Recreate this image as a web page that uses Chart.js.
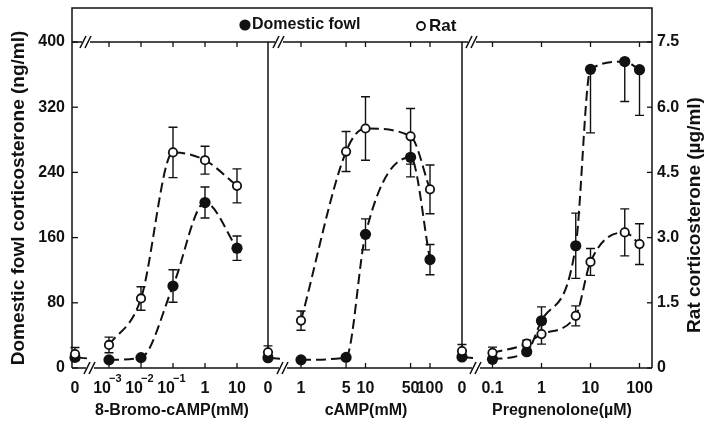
<!DOCTYPE html>
<html>
<head>
<meta charset="utf-8">
<script src="https://cdn.jsdelivr.net/npm/chart.js@4.4.1/dist/chart.umd.min.js"></script>
<style>
html, body { margin: 0; padding: 0; background: #fff; }
</style>
</head>
<body>
<canvas id="chart" width="707" height="425"></canvas>
<script>
// values; fowl in ng/ml (left axis), rat in ug/ml (right axis)
const bromoDose = [0, 0.001, 0.01, 0.1, 1, 10];
const bromoFowl = [13, 10, 12.7, 100.6, 203, 147];
const bromoFowlErr = [0, 0, 0, 20, 19, 15];
const bromoRat = [0.32, 0.53, 1.60, 4.96, 4.78, 4.19];
const bromoRatErr = [0.15, 0.18, 0.27, 0.58, 0.32, 0.39];

const campDose = [0, 1, 5, 10, 50, 100];
const campFowl = [12.6, 10, 13, 164, 258.5, 133];
const campFowlErr = [0, 0, 0, 19, 24, 18.5];
const campRat = [0.36, 1.09, 4.98, 5.51, 5.33, 4.11];
const campRatErr = [0.15, 0.22, 0.46, 0.73, 0.64, 0.56];

const pregDose = [0, 0.1, 0.5, 1, 5, 10, 50, 100];
const pregFowl = [13.5, 10.7, 20, 58, 150, 366.5, 376, 366];
const pregFowlErrLow = [0, 0, 0, 17, 40, 78, 49, 56];
const pregFowlErrHigh = [0, 0, 0, 17, 40, 0, 0, 0];
const pregRat = [0.39, 0.35, 0.56, 0.78, 1.20, 2.44, 3.12, 2.85];
const pregRatErr = [0.15, 0.13, 0.08, 0.23, 0.23, 0.31, 0.54, 0.47];

const bromoTicks = [0, 0.001, 0.01, 0.1, 1, 10];
const bromoTickLabels = ['0', '10^-3', '10^-2', '10^-1', '1', '10'];
const campTicks = [0, 1, 5, 10, 50, 100];
const campTickLabels = ['0', '1', '5', '10', '50', '100'];
const pregTicks = [0, 0.1, 1, 10, 100];
const pregTickLabels = ['0', '0.1', '1', '10', '100'];

const fowlTicks = [0, 80, 160, 240, 320, 400];
const ratTicks = [0, 1.5, 3.0, 4.5, 6.0, 7.5];

// layout of the three panels along one shared x scale (0..580)
const panels = [
	{ dose: bromoDose, fowl: bromoFowl, fowlLo: bromoFowlErr, fowlHi: bromoFowlErr, rat: bromoRat, ratErr: bromoRatErr,
		ticks: bromoTicks, labels: bromoTickLabels, title: '8-Bromo-cAMP(mM)', zeroAt: 3, oneAt: 133, decade: 32, brk: 17, sep: null, titleAt: 100 },
	{ dose: campDose, fowl: campFowl, fowlLo: campFowlErr, fowlHi: campFowlErr, rat: campRat, ratErr: campRatErr,
		ticks: campTicks, labels: campTickLabels, title: 'cAMP(mM)', zeroAt: 196, oneAt: 229, decade: 64.5, brk: 210, sep: 196, titleAt: 294 },
	{ dose: pregDose, fowl: pregFowl, fowlLo: pregFowlErrLow, fowlHi: pregFowlErrHigh, rat: pregRat, ratErr: pregRatErr,
		ticks: pregTicks, labels: pregTickLabels, title: 'Pregnenolone(\u00b5M)', zeroAt: 390, oneAt: 469.5, decade: 49, brk: 403, sep: 390, titleAt: 490 }
];

function pos(p, d) {
	return d === 0 ? p.zeroAt : p.oneAt + p.decade * Math.log10(d);
}

const ink = '#111';
const datasets = [];
// points first so they are drawn on top of the curves
panels.forEach(p => {
	datasets.push({
		type: 'scatter', yAxisID: 'yr',
		data: p.dose.map((d, i) => ({ x: pos(p, d), y: p.rat[i] })),
		pointRadius: 4.2, pointBackgroundColor: '#fff', pointBorderColor: ink, pointBorderWidth: 1.8, clip: false
	});
	datasets.push({
		type: 'scatter', yAxisID: 'y',
		data: p.dose.map((d, i) => ({ x: pos(p, d), y: p.fowl[i] })),
		pointRadius: 5.6, pointBackgroundColor: ink, pointBorderWidth: 0, clip: false
	});
});
panels.forEach(p => {
	const idx = p.dose.map((d, i) => i).filter(i => p.dose[i] > 0);
	datasets.push({
		type: 'line', yAxisID: 'yr',
		data: idx.map(i => ({ x: pos(p, p.dose[i]), y: p.rat[i] })),
		borderColor: ink, borderWidth: 2, borderDash: [10, 5], pointRadius: 0, cubicInterpolationMode: 'monotone', fill: false
	});
	datasets.push({
		type: 'line', yAxisID: 'y',
		data: idx.map(i => ({ x: pos(p, p.dose[i]), y: p.fowl[i] })),
		borderColor: ink, borderWidth: 2, borderDash: [10, 5], pointRadius: 0, cubicInterpolationMode: 'monotone', fill: false
	});
});

const font = (size, w) => (w || 'bold') + ' ' + size + 'px "Liberation Sans", Arial, sans-serif';

function breakMark(ctx, x, y) {
	ctx.save();
	ctx.fillStyle = '#fff';
	ctx.fillRect(x - 3, y - 2, 8, 4);
	ctx.strokeStyle = ink;
	ctx.lineWidth = 1.6;
	ctx.beginPath();
	ctx.moveTo(x - 5, y + 6); ctx.lineTo(x + 1, y - 6);
	ctx.moveTo(x, y + 6); ctx.lineTo(x + 6, y - 6);
	ctx.stroke();
	ctx.restore();
}

const framePlugin = {
	id: 'frame',
	beforeDatasetsDraw(chart) {
		const { ctx, chartArea: a, scales } = chart;
		const xs = scales.x, yf = scales.y, yr = scales.yr;
		ctx.save();
		ctx.strokeStyle = ink;
		ctx.lineWidth = 1.5;
		const boxTop = 8;
		// outer frame and axis lines
		ctx.beginPath();
		ctx.moveTo(a.left, a.bottom); ctx.lineTo(a.left, boxTop); ctx.lineTo(a.right, boxTop); ctx.lineTo(a.right, a.bottom);
		ctx.moveTo(a.left, a.top); ctx.lineTo(a.right, a.top);
		ctx.moveTo(a.left, a.bottom); ctx.lineTo(a.right, a.bottom);
		ctx.stroke();
		// panel separators, from the top axis down to just above the zero doses
		panels.forEach(p => {
			if (p.sep === null) return;
			const x = xs.getPixelForValue(p.sep);
			ctx.beginPath(); ctx.moveTo(x, a.top); ctx.lineTo(x, a.bottom - 20); ctx.stroke();
		});
		// y ticks
		ctx.lineWidth = 1.3;
		fowlTicks.forEach(v => {
			const y = yf.getPixelForValue(v);
			ctx.beginPath(); ctx.moveTo(a.left, y); ctx.lineTo(a.left + 6, y); ctx.stroke();
		});
		ratTicks.forEach(v => {
			const y = yr.getPixelForValue(v);
			ctx.beginPath(); ctx.moveTo(a.right, y); ctx.lineTo(a.right - 5, y); ctx.stroke();
		});
		// x ticks on the bottom and top axis lines
		panels.forEach(p => {
			p.ticks.forEach(t => {
				if (t === 0) return;
				const x = xs.getPixelForValue(pos(p, t));
				ctx.beginPath();
				ctx.moveTo(x, a.bottom); ctx.lineTo(x, a.bottom - 5);
				ctx.moveTo(x, a.top); ctx.lineTo(x, a.top + 5);
				ctx.stroke();
			});
		});
		// breaks, with the short link from the zero dose
		panels.forEach(p => {
			const bx = xs.getPixelForValue(p.brk);
			breakMark(ctx, bx, a.bottom);
			breakMark(ctx, bx - 4, a.top);
			const zx = xs.getPixelForValue(p.zeroAt);
			ctx.lineWidth = 1.8;
			ctx.beginPath();
			ctx.moveTo(zx, yf.getPixelForValue(p.fowl[0])); ctx.lineTo(bx - 2, yf.getPixelForValue(p.fowl[0]) + 1);
			ctx.stroke();
		});
		// error bars
		ctx.lineWidth = 1.4;
		const bar = (x, yTop, yBot, capTop, capBot) => {
			ctx.beginPath();
			ctx.moveTo(x, yTop); ctx.lineTo(x, yBot);
			if (capTop) { ctx.moveTo(x - 4.5, yTop); ctx.lineTo(x + 4.5, yTop); }
			if (capBot) { ctx.moveTo(x - 4.5, yBot); ctx.lineTo(x + 4.5, yBot); }
			ctx.stroke();
		};
		panels.forEach(p => {
			p.dose.forEach((d, i) => {
				const x = xs.getPixelForValue(pos(p, d));
				if (p.ratErr[i] > 0) {
					bar(x, yr.getPixelForValue(p.rat[i] + p.ratErr[i]), yr.getPixelForValue(p.rat[i] - p.ratErr[i]), true, true);
				}
				const lo = p.fowlLo[i], hi = p.fowlHi[i];
				if (lo > 0 || hi > 0) {
					bar(x, yf.getPixelForValue(p.fowl[i] + hi), yf.getPixelForValue(p.fowl[i] - lo), hi > 0, lo > 0);
				}
			});
		});
		ctx.restore();
	},
	afterDraw(chart) {
		const { ctx, chartArea: a, scales } = chart;
		const xs = scales.x, yf = scales.y, yr = scales.yr;
		ctx.save();
		ctx.fillStyle = ink;
		ctx.textBaseline = 'middle';
		// y tick labels
		ctx.font = font(16);
		ctx.textAlign = 'right';
		fowlTicks.forEach(v => ctx.fillText(String(v), a.left - 7, yf.getPixelForValue(v)));
		ctx.textAlign = 'left';
		ratTicks.forEach(v => ctx.fillText(v === 0 ? '0' : v.toFixed(1), a.right + 5, yr.getPixelForValue(v)));
		// x tick labels
		panels.forEach(p => {
			p.ticks.forEach((t, i) => {
				const x = xs.getPixelForValue(pos(p, t));
				const lab = p.labels[i];
				if (lab.indexOf('^') >= 0) {
					const parts = lab.split('^');
					ctx.font = font(16);
					ctx.textAlign = 'right';
					ctx.fillText(parts[0], x + 2, a.bottom + 21);
					ctx.font = font(11);
					ctx.textAlign = 'left';
					ctx.fillText(parts[1].replace('-', '\u2212'), x, a.bottom + 11);
				} else {
					ctx.font = font(16);
					ctx.textAlign = 'center';
					ctx.fillText(lab, x, a.bottom + 21);
				}
			});
			ctx.font = font(16);
			ctx.textAlign = 'center';
			ctx.fillText(p.title, xs.getPixelForValue(p.titleAt), a.bottom + 43);
		});
		// axis titles
		ctx.font = font(19);
		ctx.textAlign = 'center';
		ctx.save();
		ctx.translate(19, 198);
		ctx.rotate(-Math.PI / 2);
		ctx.fillText('Domestic fowl corticosterone (ng/ml)', 0, 0);
		ctx.restore();
		ctx.save();
		ctx.translate(695, 215);
		ctx.rotate(-Math.PI / 2);
		ctx.fillText('Rat corticosterone (\u00b5g/ml)', 0, 0);
		ctx.restore();
		// legend in the top box
		ctx.font = font(16);
		ctx.textAlign = 'left';
		ctx.beginPath(); ctx.arc(245, 25, 5.6, 0, Math.PI * 2); ctx.fill();
		ctx.fillText('Domestic fowl', 252, 25);
		ctx.lineWidth = 1.8; ctx.strokeStyle = ink;
		ctx.beginPath(); ctx.arc(421, 26, 4, 0, Math.PI * 2); ctx.stroke();
		ctx.font = font(17);
		ctx.fillText('Rat', 429, 26);
		ctx.restore();
	}
};

new Chart(document.getElementById('chart'), {
	type: 'scatter',
	data: { datasets },
	options: {
		responsive: false,
		animation: false,
		devicePixelRatio: 1,
		layout: { padding: { left: 72, right: 55, top: 42, bottom: 57 } },
		plugins: { legend: { display: false }, tooltip: { enabled: false } },
		scales: {
			x: { type: 'linear', min: 0, max: 580, display: false },
			y: { type: 'linear', min: 0, max: 400, display: false },
			yr: { type: 'linear', position: 'right', min: 0, max: 7.5, display: false }
		}
	},
	plugins: [framePlugin]
});
</script>
</body>
</html>
